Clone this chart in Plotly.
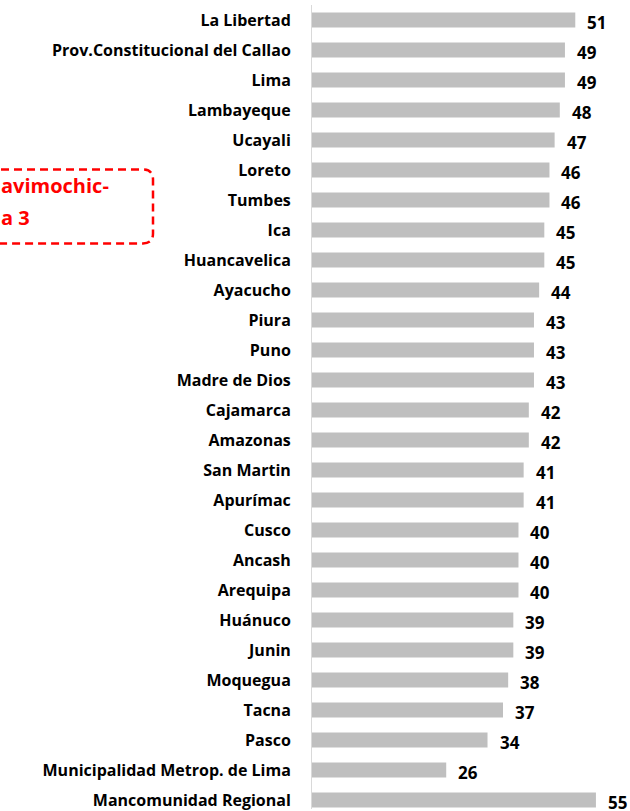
import plotly.graph_objects as go

categories = ["La Libertad", "Prov.Constitucional del Callao", "Lima", "Lambayeque", "Ucayali",
              "Loreto", "Tumbes", "Ica", "Huancavelica", "Ayacucho", "Piura", "Puno",
              "Madre de Dios", "Cajamarca", "Amazonas", "San Martin", "Apurímac", "Cusco",
              "Ancash", "Arequipa", "Huánuco", "Junin", "Moquegua", "Tacna", "Pasco",
              "Municipalidad Metrop. de Lima", "Mancomunidad Regional"]
values = [51, 49, 49, 48, 47, 46, 46, 45, 45, 44, 43, 43, 43, 42, 42, 41, 41, 40, 40, 40,
          39, 39, 38, 37, 34, 26, 55]
box_lines = ["avimochic-", "a 3"]

FONT = "Open Sans"
W, H = 630, 811
ML, MT = 312, 5
PW, PH = W - ML, H - MT

fig = go.Figure(go.Bar(
    x=values, y=categories, orientation="h",
    marker=dict(color="#BFBFBF", line=dict(width=0)),
    width=0.5, hoverinfo="skip",
))

for c, v in zip(categories, values):
    fig.add_annotation(x=v, y=c, xref="x", yref="y", text=str(v), showarrow=False,
                       xanchor="left", yanchor="middle", xshift=10, yshift=-2,
                       font=dict(family=FONT, size=17, color="#000000", weight="bold"))

def px_x(p):
    return (p - ML) / PW

def px_y(p):
    return (H - p) / PH

x0, x1, y0, y1, r = -25, 153, 170, 244, 10
path = (f"M {px_x(x0)},{px_y(y0)} L {px_x(x1 - r)},{px_y(y0)} "
        f"Q {px_x(x1)},{px_y(y0)} {px_x(x1)},{px_y(y0 + r)} "
        f"L {px_x(x1)},{px_y(y1 - r)} "
        f"Q {px_x(x1)},{px_y(y1)} {px_x(x1 - r)},{px_y(y1)} "
        f"L {px_x(x0)},{px_y(y1)} Z")
fig.add_shape(type="path", path=path, xref="paper", yref="paper",
              line=dict(color="#FF0000", width=2.5, dash="8px,5px"), fillcolor="rgba(0,0,0,0)")

for line, py in zip(box_lines, [186, 218]):
    fig.add_annotation(x=px_x(-1), y=px_y(py), xref="paper", yref="paper", text=line,
                       showarrow=False, xanchor="left", yanchor="middle",
                       font=dict(family=FONT, size=20, color="#FF0000", weight="bold"))

fig.update_layout(
    width=W, height=H,
    margin=dict(l=ML, r=0, t=MT, b=0, pad=0),
    plot_bgcolor="white", paper_bgcolor="white",
    showlegend=False,
    xaxis=dict(range=[0, 61.6], visible=False, fixedrange=True),
    yaxis=dict(type="category", categoryorder="array", categoryarray=categories,
               range=[26.3, -0.5], showline=True, linecolor="#D9D9D9", linewidth=1,
               showgrid=False, zeroline=False, ticks="", ticklabelstandoff=17,
               fixedrange=True,
               tickfont=dict(family=FONT, size=16, color="#000000", weight="bold")),
    bargap=0.5,
)

fig.write_html("out.html", config={"displayModeBar": False},
               post_script="document.body.style.margin='0';")
